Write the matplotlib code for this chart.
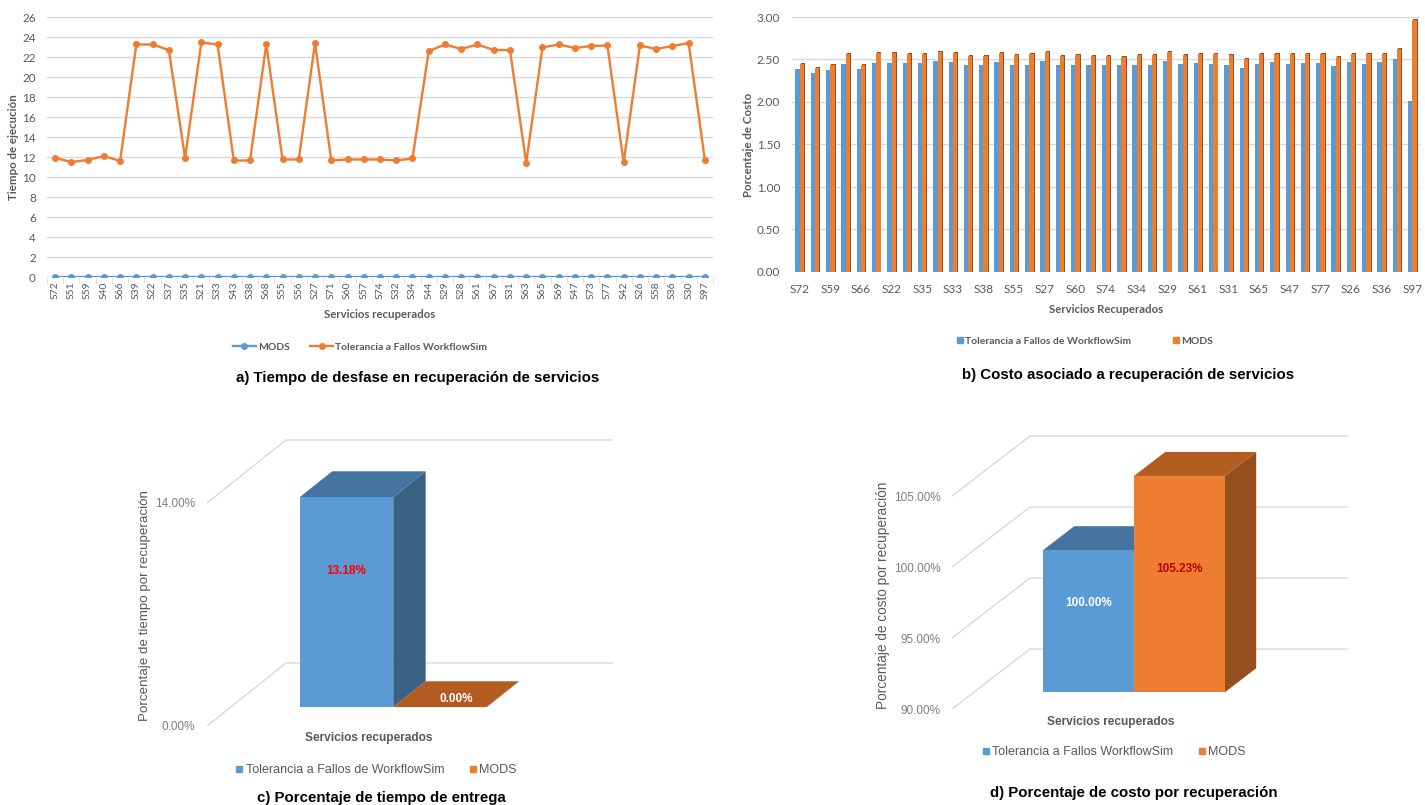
import numpy as np
import matplotlib
matplotlib.use('Agg')
import matplotlib.pyplot as plt
from matplotlib.patches import Polygon, Rectangle
from matplotlib.lines import Line2D

# servicios recuperados (mismo orden en a y b)
servicios = ['S72', 'S51', 'S59', 'S40', 'S66', 'S39', 'S22', 'S37', 'S35', 'S21',
             'S33', 'S43', 'S38', 'S68', 'S55', 'S56', 'S27', 'S71', 'S60', 'S57',
             'S74', 'S32', 'S34', 'S44', 'S29', 'S28', 'S61', 'S67', 'S31', 'S63',
             'S65', 'S69', 'S47', 'S73', 'S77', 'S42', 'S26', 'S58', 'S36', 'S30', 'S97']

# a) tiempo de desfase
tiempo_mods = [0.0] * len(servicios)
tiempo_wfs = [11.9, 11.5, 11.7, 12.1, 11.6, 23.25, 23.25, 22.7, 11.9, 23.45,
              23.25, 11.65, 11.65, 23.3, 11.75, 11.75, 23.4, 11.65, 11.75, 11.75,
              11.75, 11.65, 11.85, 22.6, 23.25, 22.8, 23.25, 22.7, 22.7, 11.4,
              22.95, 23.25, 22.9, 23.1, 23.15, 11.45, 23.15, 22.8, 23.1, 23.4, 11.7]

# b) costo
costo_wfs = [2.39, 2.34, 2.375, 2.45, 2.39, 2.46, 2.46, 2.46, 2.46, 2.48,
             2.47, 2.43, 2.43, 2.47, 2.44, 2.44, 2.48, 2.44, 2.44, 2.43,
             2.43, 2.43, 2.44, 2.44, 2.48, 2.45, 2.46, 2.45, 2.44, 2.40,
             2.45, 2.47, 2.45, 2.46, 2.46, 2.42, 2.47, 2.45, 2.47, 2.51, 2.01]
costo_mods = [2.45, 2.40, 2.44, 2.57, 2.43, 2.58, 2.58, 2.57, 2.57, 2.59,
              2.58, 2.54, 2.54, 2.58, 2.55, 2.56, 2.59, 2.54, 2.55, 2.54,
              2.54, 2.53, 2.55, 2.55, 2.59, 2.55, 2.57, 2.56, 2.55, 2.51,
              2.56, 2.57, 2.56, 2.57, 2.57, 2.53, 2.57, 2.56, 2.57, 2.62, 2.97]

# c) y d) porcentajes
pct_tiempo = [13.18, 0.00]      # WorkflowSim, MODS
pct_costo = [100.00, 105.23]    # WorkflowSim, MODS

AZUL = '#5B9BD5'
NARANJA = '#ED7D31'
GRIS = '#595959'
GRID = '#d9d9d9'

W, H = 1425, 805
fig = plt.figure(figsize=(W / 100, H / 100), dpi=100, facecolor='white')


def px_axes(left, top, right, bottom):
    return fig.add_axes([left / W, 1 - bottom / H, (right - left) / W, (bottom - top) / H])


def ftext(x, y, s, **kw):
    kw.setdefault('ha', 'center')
    kw.setdefault('va', 'center')
    fig.text(x / W, 1 - y / H, s, **kw)


CAL = ['Lato', 'DejaVu Sans']
ARI = ['Liberation Sans', 'DejaVu Sans']
x = np.arange(len(servicios))

# ---------- a) lineas ----------
ax = px_axes(47, 17, 713, 277)
ax.plot(x, tiempo_mods, color=AZUL, lw=1.7, marker='o', ms=4, zorder=3)
ax.plot(x, tiempo_wfs, color=NARANJA, lw=1.7, marker='o', ms=4, zorder=3)
ax.set_xlim(-0.5, len(servicios) - 0.5)
ax.set_ylim(0, 26)
ax.set_yticks(range(0, 27, 2))
ax.set_xticks(x)
ax.set_xticklabels(servicios, rotation=90, fontsize=7.5, color=GRIS, family=CAL)
ax.set_xticks(np.arange(-0.5, len(servicios)), minor=True)
ax.tick_params(axis='x', which='major', length=0, pad=3.5)
ax.tick_params(axis='x', which='minor', length=4, color=GRID)
ax.tick_params(axis='y', length=0, pad=8, labelsize=8.5, labelcolor=GRIS)
for t in ax.get_yticklabels():
    t.set_family(CAL)
ax.grid(axis='y', color=GRID, lw=1)
ax.set_axisbelow(True)
for s in ax.spines.values():
    s.set_visible(False)
ftext(14, 147, 'Tiempo de ejecución', rotation=90, fontsize=8.3, weight='bold', color=GRIS, family=CAL)
ftext(380, 315, 'Servicios recuperados', fontsize=8.2, weight='bold', color=GRIS, family=CAL)
hs = [Line2D([], [], color=AZUL, lw=1.7, marker='o', ms=4),
      Line2D([], [], color=NARANJA, lw=1.7, marker='o', ms=4)]
leg = ax.legend(hs, ['MODS', 'Tolerancia a Fallos WorkflowSim'], loc='center', ncol=2,
                bbox_to_anchor=(360 / W, 1 - 347 / H), bbox_transform=fig.transFigure,
                frameon=False, handlelength=2.2, columnspacing=2.0, handletextpad=0.2,
                prop={'family': CAL, 'weight': 'bold', 'size': 7.5})
for t in leg.get_texts():
    t.set_color(GRIS)
ftext(418, 378, 'a) Tiempo de desfase en recuperación de servicios',
      fontsize=10.8, weight='bold', color='black', family=ARI)

# ---------- b) barras ----------
ax = px_axes(792, 17, 1420, 272)
w = 0.28
ax.bar(x - 0.14, costo_wfs, w, color=AZUL, zorder=3)
ax.bar(x + 0.14 + 0.06, np.array(costo_mods) + 0.012, w, color='#9A4F1E', zorder=3)
ax.bar(x + 0.14, costo_mods, w, color=NARANJA, zorder=4)
ax.set_xlim(-0.5, len(servicios) - 0.5)
ax.set_ylim(0, 3)
ax.set_yticks(np.arange(0, 3.01, 0.5))
ax.set_yticklabels(['%.2f' % v for v in np.arange(0, 3.01, 0.5)], family=CAL)
ax.set_xticks(x[::2])
ax.set_xticklabels(servicios[::2], fontsize=8.5, color=GRIS, family=CAL)
ax.tick_params(axis='x', length=0, pad=8.5)
ax.tick_params(axis='y', length=0, pad=8.5, labelsize=8.5, labelcolor=GRIS)
ax.grid(axis='y', color=GRID, lw=1)
ax.set_axisbelow(True)
for s in ax.spines.values():
    s.set_visible(False)
ftext(748, 145, 'Porcentaje de Costo', rotation=90, fontsize=8.3, weight='bold', color=GRIS, family=CAL)
ftext(1106, 309, 'Servicios Recuperados', fontsize=8.2, weight='bold', color=GRIS, family=CAL)
hs = [Line2D([], [], color=AZUL, marker='s', ls='', ms=5),
      Line2D([], [], color=NARANJA, marker='s', ls='', ms=5)]
leg = ax.legend(hs, ['Tolerancia a Fallos de WorkflowSim', 'MODS'], loc='center', ncol=2,
                bbox_to_anchor=(1085 / W, 1 - 341 / H), bbox_transform=fig.transFigure,
                frameon=False, handlelength=0.6, columnspacing=4.0, handletextpad=0.2,
                prop={'family': CAL, 'weight': 'bold', 'size': 7.5})
for t in leg.get_texts():
    t.set_color(GRIS)
ftext(1128, 375, 'b) Costo asociado a recuperación de servicios',
      fontsize=10.8, weight='bold', color='black', family=ARI)


# ---------- c) y d) columnas 3D ----------
def pared(ax, ticks, x0, x1, DX, DY):
    for v in ticks:
        ax.plot([x0, x0 + DX, x1], [v, v + DY, v + DY], color=GRID, lw=1, zorder=1)


def caja(ax, xc, base, val, caras, DX, DY, f0, fd):
    frente, arriba, lado = caras
    y0 = base + f0 * DY
    y1 = val + f0 * DY
    dx, dy = fd * DX, fd * DY
    ax.add_patch(Polygon([(xc + 0.5, y0), (xc + 0.5 + dx, y0 + dy),
                          (xc + 0.5 + dx, y1 + dy), (xc + 0.5, y1)],
                         color=lado, lw=0, zorder=3))
    ax.add_patch(Polygon([(xc - 0.5, y1), (xc + 0.5, y1),
                          (xc + 0.5 + dx, y1 + dy), (xc - 0.5 + dx, y1 + dy)],
                         color=arriba, lw=0, zorder=3))
    ax.add_patch(Rectangle((xc - 0.5, y0), 1, y1 - y0, color=frente, lw=0, zorder=3))
    return y0, y1


CARAS_AZUL = (AZUL, '#44749F', '#386183')
CARAS_NAR = (NARANJA, '#B35C21', '#974E1E')


def panel3d(box, ylim, ticks, vals, DX, DY, f0, fd, xr, etiquetas, colores_etq, pos_etq, pad):
    ax = px_axes(*box)
    ax.set_xlim(*xr)
    ax.set_ylim(*ylim)
    pared(ax, ticks, xr[0], 2.84, DX, DY)
    for i, (v, caras) in enumerate(zip(vals, [CARAS_AZUL, CARAS_NAR])):
        y0, y1 = caja(ax, i, ylim[0], v, caras, DX, DY, f0, fd)
        if y1 - y0 > 0:
            ax.text(i, y0 + pos_etq[i] * (y1 - y0), etiquetas[i], ha='center', va='center',
                    fontsize=8.5, weight='bold', color=colores_etq[i], family=ARI, zorder=5)
        else:
            # columna sin altura: la etiqueta va sobre la cara superior
            ax.text(i + fd * DX / 2, y0 + 0.3 * fd * DY, etiquetas[i], ha='center', va='center',
                    fontsize=8.5, weight='bold', color=colores_etq[i], family=ARI, zorder=5)
    ax.set_yticks(ticks)
    ax.set_yticklabels(['%.2f%%' % t for t in ticks], family=ARI)
    ax.tick_params(axis='y', length=0, pad=pad, labelsize=8.5, labelcolor='#7f7f7f')
    ax.set_xticks([])
    for s in ax.spines.values():
        s.set_visible(False)
    ax.patch.set_alpha(0)
    return ax


# c) escala: 93.5 px por columna, 15.93 px por punto porcentual
panel3d((207, 430, 620, 726), (0, 296 / 15.93), [0, 14], pct_tiempo,
        79 / 93.5, 63 / 15.93, 0.3, 0.41, (-139.5 / 93.5, 273.5 / 93.5),
        ['%.2f%%' % v for v in pct_tiempo], ['#FF0000', 'white'], [0.65, 0.5], 8.5)
ftext(145, 606, 'Porcentaje de tiempo por recuperación', rotation=90, fontsize=9.6, color=GRIS, family=ARI)
ftext(369, 738, 'Servicios recuperados', fontsize=8.6, weight='bold', color=GRIS, family=ARI)
hs = [Line2D([], [], color=AZUL, marker='s', ls='', ms=5),
      Line2D([], [], color=NARANJA, marker='s', ls='', ms=5)]
fig.legend(hs, ['Tolerancia a Fallos de WorkflowSim', 'MODS'], loc='center', ncol=2,
           bbox_to_anchor=(376 / W, 1 - 770 / H), frameon=False, handlelength=0.6,
           columnspacing=2.0, handletextpad=0.2, labelcolor=GRIS,
           prop={'family': ARI, 'size': 9})
ftext(381, 798, 'c) Porcentaje de tiempo de entrega', fontsize=10.8, weight='bold', color='black', family=ARI)

# d) escala: 91 px por columna, 14.2 px por punto porcentual
panel3d((952, 420, 1355, 709), (90, 90 + 289 / 14.2), [90, 95, 100, 105], pct_costo,
        78 / 91, 60 / 14.2, 0.28, 0.4, (-136.5 / 91, 266.5 / 91),
        ['%.2f%%' % v for v in pct_costo], ['white', '#C00000'], [0.63, 0.57], 8)
ftext(883, 595, 'Porcentaje de costo por recuperación', rotation=90, fontsize=9.8, color=GRIS, family=ARI)
ftext(1111, 722, 'Servicios recuperados', fontsize=8.6, weight='bold', color=GRIS, family=ARI)
fig.legend(hs, ['Tolerancia a Fallos WorkflowSim', 'MODS'], loc='center', ncol=2,
           bbox_to_anchor=(1114 / W, 1 - 752 / H), frameon=False, handlelength=0.6,
           columnspacing=2.0, handletextpad=0.2, labelcolor=GRIS,
           prop={'family': ARI, 'size': 9})
ftext(1134, 793, 'd) Porcentaje de costo por recuperación', fontsize=10.8, weight='bold', color='black', family=ARI)

fig.savefig('out.png', dpi=100, facecolor='white')
